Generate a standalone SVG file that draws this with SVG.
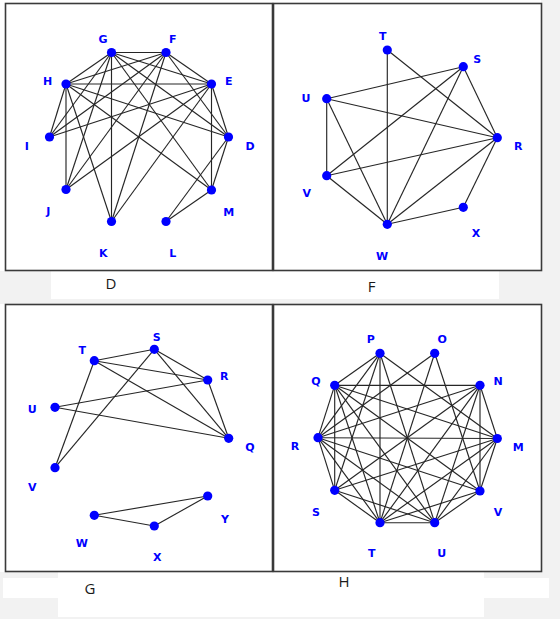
<svg xmlns="http://www.w3.org/2000/svg" width="560" height="619" viewBox="0 0 560 619">
<style>
.bg{fill:#f2f2f2}
.wh{fill:#ffffff}
.frame{fill:#ffffff;stroke:#3a3a3a;stroke-width:1.6}
.e{stroke:#262626;stroke-width:1.15;fill:none}
.n{fill:#0000ff}
.lb{font-family:"DejaVu Sans","Liberation Sans",sans-serif;font-weight:bold;font-size:11px;fill:#0000ff;text-anchor:middle}
.cap{font-family:"Open Sans","Liberation Sans",sans-serif;font-size:15px;fill:#1a1a1a;text-anchor:middle}
</style>
<rect class="bg" x="0" y="0" width="560" height="619"/>
<rect class="wh" x="0" y="0" width="541" height="271"/>
<rect class="wh" x="51" y="271" width="448" height="28"/>
<rect class="wh" x="0" y="304" width="541" height="268"/>
<rect class="wh" x="3" y="578" width="56" height="20"/>
<rect class="wh" x="58" y="572" width="426" height="45"/>
<rect class="wh" x="484" y="578" width="65" height="20"/>

<!-- Panel D -->
<g id="panel-D">
<rect class="frame" x="5.5" y="3.5" width="267" height="267"/>
<g id="edges-D">
<line class="e" x1="111.5" y1="52.5" x2="166" y2="52.5"/>
<line class="e" x1="111.5" y1="52.5" x2="66" y2="84"/>
<line class="e" x1="111.5" y1="52.5" x2="211.5" y2="84"/>
<line class="e" x1="111.5" y1="52.5" x2="111.5" y2="221.5"/>
<line class="e" x1="111.5" y1="52.5" x2="66" y2="189.5"/>
<line class="e" x1="111.5" y1="52.5" x2="49.5" y2="137"/>
<line class="e" x1="111.5" y1="52.5" x2="228.5" y2="137"/>
<line class="e" x1="111.5" y1="52.5" x2="211.5" y2="190"/>
<line class="e" x1="166" y1="52.5" x2="66" y2="84"/>
<line class="e" x1="166" y1="52.5" x2="211.5" y2="84"/>
<line class="e" x1="166" y1="52.5" x2="111.5" y2="221.5"/>
<line class="e" x1="166" y1="52.5" x2="49.5" y2="137"/>
<line class="e" x1="166" y1="52.5" x2="228.5" y2="137"/>
<line class="e" x1="166" y1="52.5" x2="66" y2="189.5"/>
<line class="e" x1="66" y1="84" x2="211.5" y2="84"/>
<line class="e" x1="66" y1="84" x2="49.5" y2="137"/>
<line class="e" x1="66" y1="84" x2="66" y2="189.5"/>
<line class="e" x1="66" y1="84" x2="111.5" y2="221.5"/>
<line class="e" x1="66" y1="84" x2="228.5" y2="137"/>
<line class="e" x1="66" y1="84" x2="211.5" y2="190"/>
<line class="e" x1="211.5" y1="84" x2="228.5" y2="137"/>
<line class="e" x1="211.5" y1="84" x2="211.5" y2="190"/>
<line class="e" x1="211.5" y1="84" x2="49.5" y2="137"/>
<line class="e" x1="211.5" y1="84" x2="66" y2="189.5"/>
<line class="e" x1="211.5" y1="84" x2="111.5" y2="221.5"/>
<line class="e" x1="228.5" y1="137" x2="211.5" y2="190"/>
<line class="e" x1="228.5" y1="137" x2="166" y2="221.5"/>
<line class="e" x1="211.5" y1="190" x2="166" y2="221.5"/>
</g>
<g id="D-G"><circle class="n" cx="111.5" cy="52.5" r="4.6"/><text class="lb" x="103" y="43">G</text></g>
<g id="D-F"><circle class="n" cx="166" cy="52.5" r="4.6"/><text class="lb" x="172.7" y="43">F</text></g>
<g id="D-H"><circle class="n" cx="66" cy="84" r="4.6"/><text class="lb" x="47.7" y="84.7">H</text></g>
<g id="D-E"><circle class="n" cx="211.5" cy="84" r="4.6"/><text class="lb" x="228.7" y="84.7">E</text></g>
<g id="D-I"><circle class="n" cx="49.5" cy="137" r="4.6"/><text class="lb" x="26.7" y="149.7">I</text></g>
<g id="D-D"><circle class="n" cx="228.5" cy="137" r="4.6"/><text class="lb" x="250" y="149.7">D</text></g>
<g id="D-J"><circle class="n" cx="66" cy="189.5" r="4.6"/><text class="lb" x="48.3" y="215">J</text></g>
<g id="D-M"><circle class="n" cx="211.5" cy="190" r="4.6"/><text class="lb" x="228.7" y="216">M</text></g>
<g id="D-K"><circle class="n" cx="111.5" cy="221.5" r="4.6"/><text class="lb" x="103.3" y="256.7">K</text></g>
<g id="D-L"><circle class="n" cx="166" cy="221.5" r="4.6"/><text class="lb" x="172.7" y="256.7">L</text></g>
</g>

<!-- Panel F -->
<g id="panel-F">
<rect class="frame" x="273.5" y="3.5" width="268" height="267"/>
<g id="edges-F">
<line class="e" x1="387.3" y1="50" x2="387.3" y2="224.3"/>
<line class="e" x1="387.3" y1="50" x2="497.3" y2="137.7"/>
<line class="e" x1="463.3" y1="66.7" x2="326.7" y2="98.7"/>
<line class="e" x1="463.3" y1="66.7" x2="326.7" y2="175.7"/>
<line class="e" x1="463.3" y1="66.7" x2="387.3" y2="224.3"/>
<line class="e" x1="463.3" y1="66.7" x2="497.3" y2="137.7"/>
<line class="e" x1="326.7" y1="98.7" x2="497.3" y2="137.7"/>
<line class="e" x1="326.7" y1="98.7" x2="326.7" y2="175.7"/>
<line class="e" x1="326.7" y1="98.7" x2="387.3" y2="224.3"/>
<line class="e" x1="326.7" y1="175.7" x2="497.3" y2="137.7"/>
<line class="e" x1="326.7" y1="175.7" x2="387.3" y2="224.3"/>
<line class="e" x1="387.3" y1="224.3" x2="497.3" y2="137.7"/>
<line class="e" x1="387.3" y1="224.3" x2="463.3" y2="207.3"/>
<line class="e" x1="463.3" y1="207.3" x2="497.3" y2="137.7"/>
</g>
<g id="F-T"><circle class="n" cx="387.3" cy="50" r="4.6"/><text class="lb" x="382.7" y="40">T</text></g>
<g id="F-S"><circle class="n" cx="463.3" cy="66.7" r="4.6"/><text class="lb" x="477.3" y="63.3">S</text></g>
<g id="F-U"><circle class="n" cx="326.7" cy="98.7" r="4.6"/><text class="lb" x="306" y="101.7">U</text></g>
<g id="F-R"><circle class="n" cx="497.3" cy="137.7" r="4.6"/><text class="lb" x="518.3" y="149.7">R</text></g>
<g id="F-V"><circle class="n" cx="326.7" cy="175.7" r="4.6"/><text class="lb" x="306.7" y="197.3">V</text></g>
<g id="F-X"><circle class="n" cx="463.3" cy="207.3" r="4.6"/><text class="lb" x="476" y="236.7">X</text></g>
<g id="F-W"><circle class="n" cx="387.3" cy="224.3" r="4.6"/><text class="lb" x="382" y="260">W</text></g>
</g>

<!-- Panel G -->
<g id="panel-G">
<rect class="frame" x="5.5" y="304.5" width="267" height="267"/>
<g id="edges-G">
<line class="e" x1="94.3" y1="360.7" x2="154.3" y2="349.3"/>
<line class="e" x1="94.3" y1="360.7" x2="207.7" y2="380"/>
<line class="e" x1="94.3" y1="360.7" x2="228.7" y2="438.3"/>
<line class="e" x1="94.3" y1="360.7" x2="55" y2="467.7"/>
<line class="e" x1="154.3" y1="349.3" x2="207.7" y2="380"/>
<line class="e" x1="154.3" y1="349.3" x2="228.7" y2="438.3"/>
<line class="e" x1="154.3" y1="349.3" x2="55" y2="467.7"/>
<line class="e" x1="55" y1="407.3" x2="207.7" y2="380"/>
<line class="e" x1="55" y1="407.3" x2="228.7" y2="438.3"/>
<line class="e" x1="207.7" y1="380" x2="228.7" y2="438.3"/>
<line class="e" x1="94.3" y1="515.3" x2="207.7" y2="496"/>
<line class="e" x1="94.3" y1="515.3" x2="154.3" y2="526"/>
<line class="e" x1="154.3" y1="526" x2="207.7" y2="496"/>
</g>
<g id="G-S"><circle class="n" cx="154.3" cy="349.3" r="4.6"/><text class="lb" x="156.7" y="340.7">S</text></g>
<g id="G-T"><circle class="n" cx="94.3" cy="360.7" r="4.6"/><text class="lb" x="82.3" y="354">T</text></g>
<g id="G-R"><circle class="n" cx="207.7" cy="380" r="4.6"/><text class="lb" x="224.3" y="379.7">R</text></g>
<g id="G-U"><circle class="n" cx="55" cy="407.3" r="4.6"/><text class="lb" x="32.3" y="413">U</text></g>
<g id="G-Q"><circle class="n" cx="228.7" cy="438.3" r="4.6"/><text class="lb" x="250" y="451">Q</text></g>
<g id="G-V"><circle class="n" cx="55" cy="467.7" r="4.6"/><text class="lb" x="32.3" y="490.7">V</text></g>
<g id="G-Y"><circle class="n" cx="207.7" cy="496" r="4.6"/><text class="lb" x="225" y="523">Y</text></g>
<g id="G-W"><circle class="n" cx="94.3" cy="515.3" r="4.6"/><text class="lb" x="81.7" y="547.3">W</text></g>
<g id="G-X"><circle class="n" cx="154.3" cy="526" r="4.6"/><text class="lb" x="157.3" y="561.3">X</text></g>
</g>

<!-- Panel H -->
<g id="panel-H">
<rect class="frame" x="273.5" y="304.5" width="268" height="267"/>
<g id="edges-H">
<line class="e" x1="380" y1="353.3" x2="334.7" y2="385.3"/>
<line class="e" x1="334.7" y1="385.3" x2="318" y2="437.7"/>
<line class="e" x1="318" y1="437.7" x2="334.7" y2="490.3"/>
<line class="e" x1="334.7" y1="490.3" x2="380" y2="522.7"/>
<line class="e" x1="380" y1="522.7" x2="434.7" y2="522.7"/>
<line class="e" x1="434.7" y1="522.7" x2="480" y2="491"/>
<line class="e" x1="480" y1="491" x2="497.3" y2="438.5"/>
<line class="e" x1="497.3" y1="438.5" x2="480" y2="385.3"/>
<line class="e" x1="334.7" y1="385.3" x2="480" y2="385.3"/>
<line class="e" x1="318" y1="437.7" x2="497.3" y2="438.5"/>
<line class="e" x1="380" y1="353.3" x2="380" y2="522.7"/>
<line class="e" x1="334.7" y1="385.3" x2="334.7" y2="490.3"/>
<line class="e" x1="480" y1="385.3" x2="480" y2="491"/>
<line class="e" x1="380" y1="353.3" x2="318" y2="437.7"/>
<line class="e" x1="380" y1="353.3" x2="334.7" y2="490.3"/>
<line class="e" x1="380" y1="353.3" x2="434.7" y2="522.7"/>
<line class="e" x1="380" y1="353.3" x2="497.3" y2="438.5"/>
<line class="e" x1="434.7" y1="353.3" x2="318" y2="437.7"/>
<line class="e" x1="434.7" y1="353.3" x2="380" y2="522.7"/>
<line class="e" x1="434.7" y1="353.3" x2="480" y2="491"/>
<line class="e" x1="334.7" y1="385.3" x2="497.3" y2="438.5"/>
<line class="e" x1="334.7" y1="385.3" x2="480" y2="491"/>
<line class="e" x1="334.7" y1="385.3" x2="434.7" y2="522.7"/>
<line class="e" x1="334.7" y1="385.3" x2="380" y2="522.7"/>
<line class="e" x1="318" y1="437.7" x2="480" y2="385.3"/>
<line class="e" x1="318" y1="437.7" x2="380" y2="522.7"/>
<line class="e" x1="318" y1="437.7" x2="434.7" y2="522.7"/>
<line class="e" x1="318" y1="437.7" x2="480" y2="491"/>
<line class="e" x1="334.7" y1="490.3" x2="497.3" y2="438.5"/>
<line class="e" x1="334.7" y1="490.3" x2="434.7" y2="522.7"/>
<line class="e" x1="334.7" y1="490.3" x2="480" y2="385.3"/>
<line class="e" x1="380" y1="522.7" x2="497.3" y2="438.5"/>
<line class="e" x1="380" y1="522.7" x2="480" y2="491"/>
<line class="e" x1="380" y1="522.7" x2="480" y2="385.3"/>
<line class="e" x1="434.7" y1="522.7" x2="480" y2="385.3"/>
<line class="e" x1="434.7" y1="522.7" x2="497.3" y2="438.5"/>
</g>
<g id="H-P"><circle class="n" cx="380" cy="353.3" r="4.6"/><text class="lb" x="370.7" y="343.3">P</text></g>
<g id="H-O"><circle class="n" cx="434.7" cy="353.3" r="4.6"/><text class="lb" x="442.3" y="343.3">O</text></g>
<g id="H-Q"><circle class="n" cx="334.7" cy="385.3" r="4.6"/><text class="lb" x="316" y="385">Q</text></g>
<g id="H-N"><circle class="n" cx="480" cy="385.3" r="4.6"/><text class="lb" x="498" y="385">N</text></g>
<g id="H-R"><circle class="n" cx="318" cy="437.7" r="4.6"/><text class="lb" x="295" y="450">R</text></g>
<g id="H-M"><circle class="n" cx="497.3" cy="438.5" r="4.6"/><text class="lb" x="518.3" y="451">M</text></g>
<g id="H-S"><circle class="n" cx="334.7" cy="490.3" r="4.6"/><text class="lb" x="316" y="515.7">S</text></g>
<g id="H-V"><circle class="n" cx="480" cy="491" r="4.6"/><text class="lb" x="498" y="516.3">V</text></g>
<g id="H-T"><circle class="n" cx="380" cy="522.7" r="4.6"/><text class="lb" x="371.7" y="556.7">T</text></g>
<g id="H-U"><circle class="n" cx="434.7" cy="522.7" r="4.6"/><text class="lb" x="441.7" y="556.7">U</text></g>
</g>

<text class="cap" x="111" y="289">D</text>
<text class="cap" x="371.7" y="292">F</text>
<text class="cap" x="90" y="594">G</text>
<text class="cap" x="344" y="586.5">H</text>
</svg>
